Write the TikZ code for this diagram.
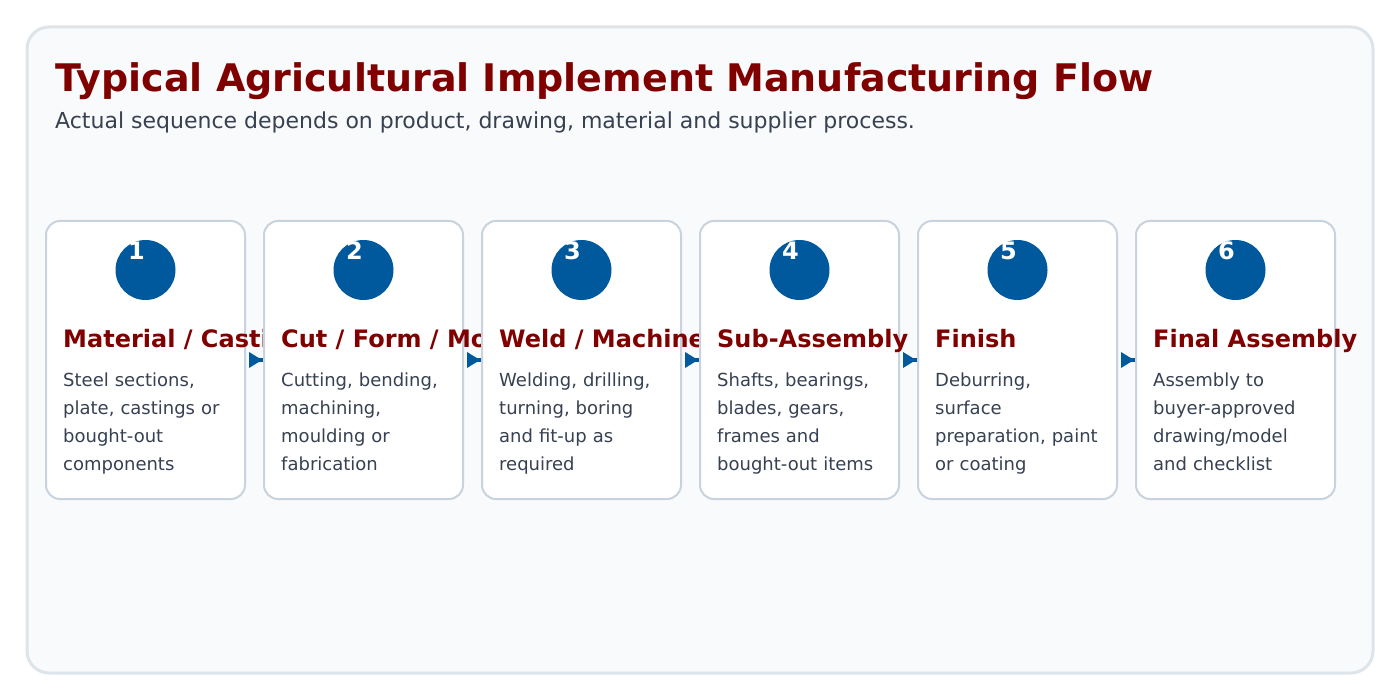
\documentclass[tikz,border=0pt]{standalone}
\usepackage{fontspec}
\setmainfont{DejaVu Sans}
\definecolor{panelfill}{HTML}{F8FAFC}
\definecolor{panelline}{HTML}{DDE4EA}
\definecolor{cardline}{HTML}{C8D3DD}
\definecolor{stepblue}{HTML}{00599D}
\definecolor{maroon}{HTML}{800000}
\definecolor{bodygrey}{HTML}{374151}
\tikzset{
  panel/.style={draw=panelline, fill=panelfill, line width=3pt, rounded corners=22pt},
  cardbox/.style={draw=cardline, fill=white, line width=2pt, rounded corners=14pt},
  stepdot/.style={circle, fill=stepblue, minimum size=60pt, inner sep=0pt},
  stepnum/.style={anchor=base, inner sep=0pt, text=white, font=\fontsize{24}{28}\selectfont\bfseries},
  cardtitle/.style={anchor=base west, inner sep=0pt, text=maroon, font=\fontsize{24}{28}\selectfont\bfseries},
  carddesc/.style={anchor=base west, inner sep=0pt, text=bodygrey, text width=260pt, align=left, font=\fontsize{18}{28}\selectfont},
  flowarrow/.style={fill=stepblue},
  flowstem/.style={draw=stepblue, line width=4pt},
}
\begin{document}
\begin{tikzpicture}[x=1pt,y=-1pt]
\useasboundingbox (0,0) rectangle (1400,700);
\fill[white] (0,0) rectangle (1400,700);
\draw[panel] (27,27) rectangle (1373,673);
\node[anchor=base west, inner sep=0pt, text=maroon, font=\fontsize{38}{42}\selectfont\bfseries] (title) at (55,92) {Typical Agricultural Implement Manufacturing Flow};
\node[anchor=base west, inner sep=0pt, text=bodygrey, font=\fontsize{22}{26}\selectfont] (subtitle) at (55,129) {Actual sequence depends on product, drawing, material and supplier process.};
\foreach \i/\ttl/\desc in {
  1/{Material / Casti}/{Steel sections,\\plate, castings or\\bought-out\\components},
  2/{Cut / Form / Mo}/{Cutting, bending,\\machining,\\moulding or\\fabrication},
  3/{Weld / Machine}/{Welding, drilling,\\turning, boring\\and fit-up as\\required},
  4/{Sub-Assembly}/{Shafts, bearings,\\blades, gears,\\frames and\\bought-out items},
  5/{Finish}/{Deburring,\\surface\\preparation, paint\\or coating},
  6/{Final Assembly}/{Assembly to\\buyer-approved\\drawing/model\\and checklist}}{
  \pgfmathsetmacro{\L}{46+218*(\i-1)}
  \draw[cardbox] (\L,221) rectangle ++(199,278);
  \node[stepdot] (dot\i) at (\L+99.5,270) {};
  \node[stepnum] (num\i) at (\L+90.5,260) {\i};
  \node[cardtitle] (ttl\i) at (\L+17,348) {\ttl};
  \node[carddesc] (desc\i) at (\L+17,387) {\desc};
  \ifnum\i<6
    \coordinate (as\i) at (\L+209,360);
    \coordinate (ae\i) at (\L+219,360);
    \draw[flowstem] (as\i) -- (ae\i);
    \fill[flowarrow] (\L+203,352) -- (\L+216,360) -- (\L+203,368) -- cycle;
  \fi
}
\end{tikzpicture}
\end{document}
